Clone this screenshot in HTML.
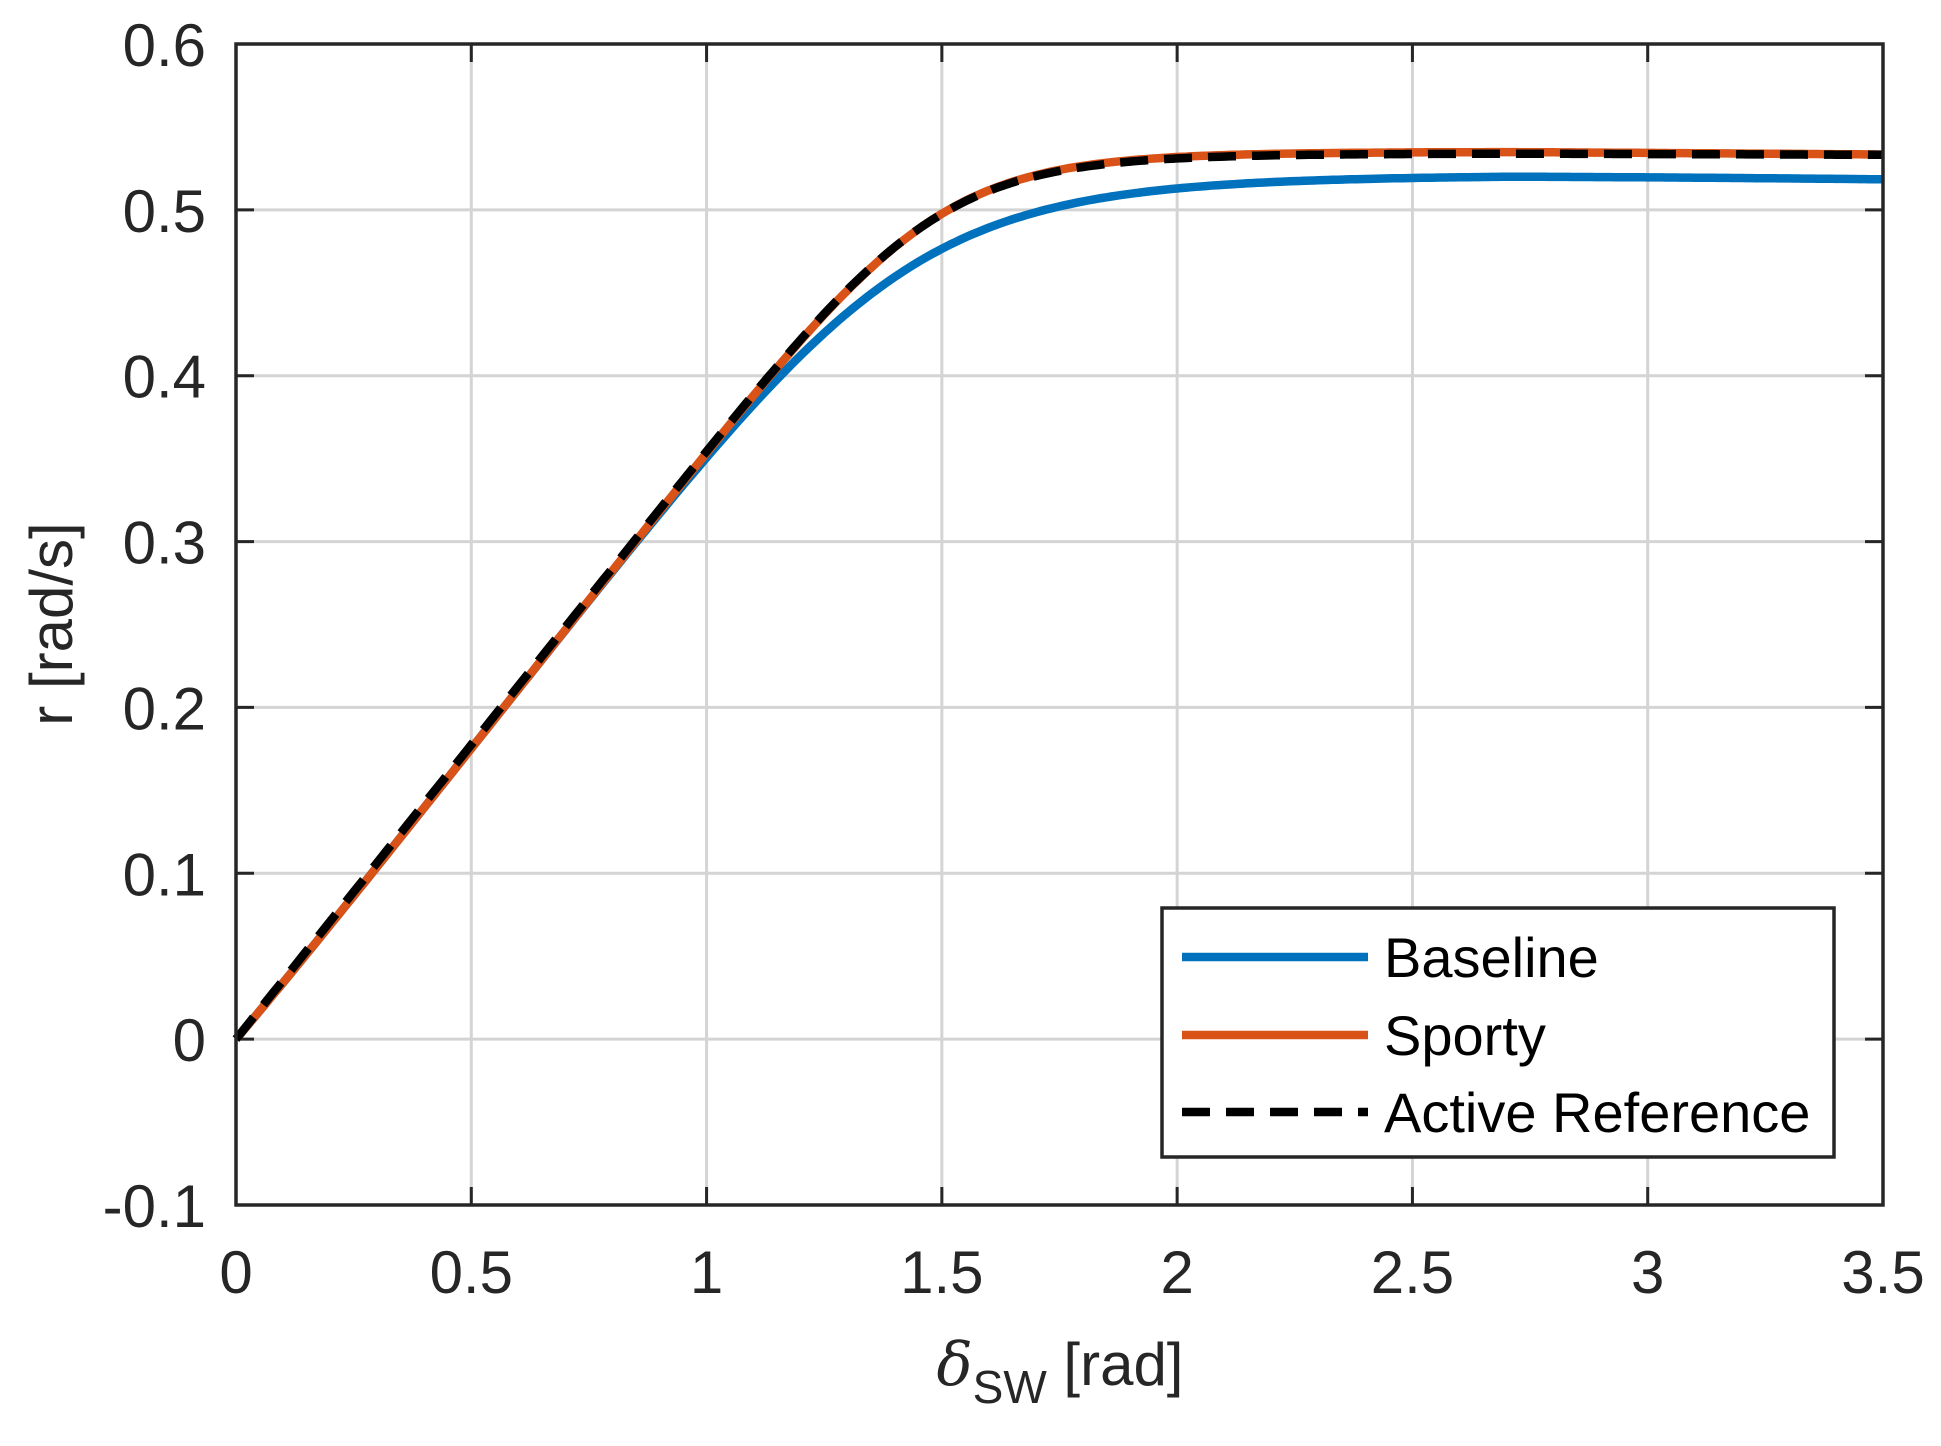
<!DOCTYPE html>
<html><head><style>body{margin:0;background:#fff}svg{display:block}text{font-family:"Liberation Sans",Arial,sans-serif;fill:#262626}</style></head>
<body>
<svg id="s" width="1941" height="1446" xmlns="http://www.w3.org/2000/svg">
<g id="grid" stroke="#d4d4d4" stroke-width="3"></g>
<g id="ticks" stroke="#262626" stroke-width="3"></g>
<g id="labels" font-size="60"></g>
<path id="b" fill="none" stroke="#0072BD" stroke-width="8.5"/>
<path id="o" fill="none" stroke="#D95319" stroke-width="8.5"/>
<path id="k" fill="none" stroke="#000" stroke-width="8.5" stroke-dasharray="28,16"/>
<rect x="236" y="44" width="1647" height="1161" fill="none" stroke="#262626" stroke-width="3.5"/>
<text x="0" y="0" font-size="60" text-anchor="middle" transform="translate(72,624) rotate(-90)">r [rad/s]</text>
<text x="1060" y="1385" font-size="60" text-anchor="middle"><tspan font-family="'DejaVu Serif',serif" font-style="italic">δ</tspan><tspan font-size="46" dy="18">SW</tspan><tspan dy="-18"> [rad]</tspan></text>
<rect x="1162" y="908" width="672" height="249" fill="#fff" stroke="#262626" stroke-width="3.5"/>
<line x1="1182" y1="957" x2="1368" y2="957" stroke="#0072BD" stroke-width="8.5"/>
<line x1="1182" y1="1035" x2="1368" y2="1035" stroke="#D95319" stroke-width="8.5"/>
<line x1="1182" y1="1112" x2="1368" y2="1112" stroke="#000" stroke-width="8.5" stroke-dasharray="28,16"/>
<text x="1384" y="977" font-size="56" style="fill:#000">Baseline</text>
<text x="1384" y="1055" font-size="56" style="fill:#000">Sporty</text>
<text x="1384" y="1132" font-size="56" style="fill:#000">Active Reference</text>
</svg>
<script>
const X=x=>236+x*1647/3.5, Y=y=>44+(0.6-y)*1161/0.7;
const ns="http://www.w3.org/2000/svg";
function el(p,t,a,txt){const e=document.createElementNS(ns,t);for(const k in a)e.setAttribute(k,a[k]);if(txt!=null)e.textContent=txt;document.getElementById(p).appendChild(e);}
for(let i=1;i<7;i++){const x=X(i*0.5);el('grid','line',{x1:x,y1:44,x2:x,y2:1205});el('ticks','line',{x1:x,y1:1205,x2:x,y2:1187});el('ticks','line',{x1:x,y1:44,x2:x,y2:62});}
for(let i=0;i<8;i++){const v=-0.1+i*0.1,y=Y(v);if(i>0&&i<7){el('grid','line',{x1:236,y1:y,x2:1883,y2:y});el('ticks','line',{x1:236,y1:y,x2:254,y2:y});el('ticks','line',{x1:1883,y1:y,x2:1865,y2:y});}
el('labels','text',{x:206,y:y+22,'text-anchor':'end'},(Math.abs(v)<1e-9?'0':v.toFixed(1)));}
['0','0.5','1','1.5','2','2.5','3','3.5'].forEach((t,i)=>el('labels','text',{x:X(i*0.5),y:1293,'text-anchor':'middle'},t));
function path(id,s,L,n,d,off){let p='';for(let i=0;i<=350;i++){const x=i*0.01;let r=s*x/Math.pow(1+Math.pow(s*x/L,n),1/n);r-=d*Math.max(0,x-2.7);r+=off*x*Math.exp(-x*3);p+=(i?'L':'M')+X(x).toFixed(1)+','+Y(r).toFixed(1);}document.getElementById(id).setAttribute('d',p);}
path('b',0.355,0.521,7,0.003,-0.02);
path('o',0.355,0.535,10,0.002,-0.02);
path('k',0.355,0.534,10,0.001,0.0);
</script>
</body></html>
